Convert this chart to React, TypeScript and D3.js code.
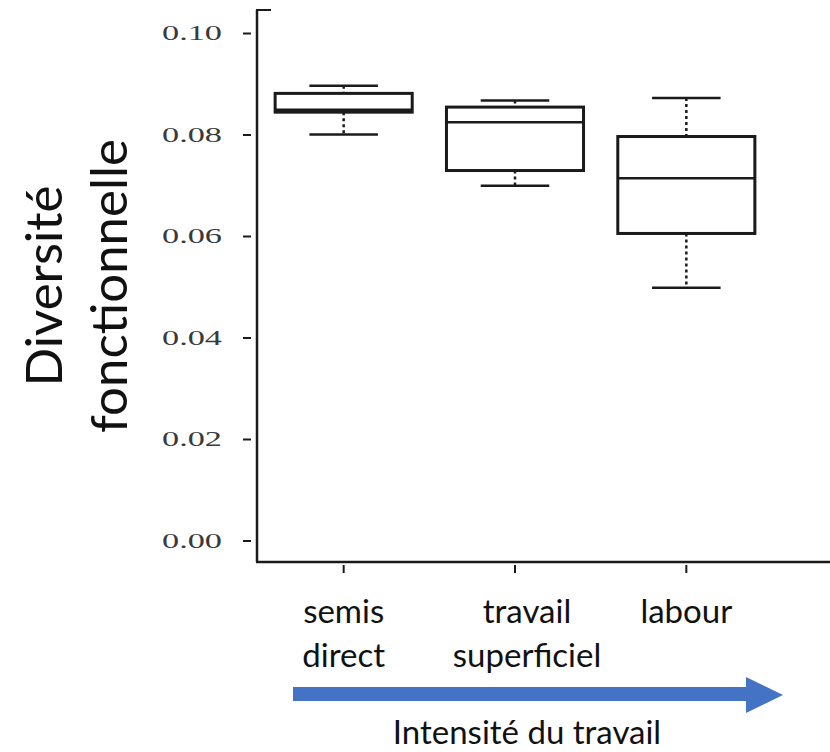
import * as d3 from "d3";

const width = 830;
const height = 752;

// data
const categories = ["semis direct", "travail superficiel", "labour"];
const labelLines = [["semis", "direct"], ["travail", "superficiel"], ["labour"]];
const whiskerLow = [0.0801, 0.07, 0.0499];
const q1 = [0.0845, 0.073, 0.0606];
const median = [0.085, 0.0825, 0.0715];
const q3 = [0.0882, 0.0855, 0.0797];
const whiskerHigh = [0.0897, 0.0868, 0.0873];
const yTicks = [0, 0.02, 0.04, 0.06, 0.08, 0.1];

const axisX = 257;
const axisY = 562;
const labelShift = [0, 12, 0];
const ink = "#1a1a1a";
const sans = "Lato, 'Open Sans', sans-serif";

export default function App() {
  const y = d3.scaleLinear().domain([0, 0.1]).range([541, 33.5]);
  const x = d3
    .scalePoint<string>()
    .domain(categories)
    .range([258, 772])
    .padding(0.5);
  const step = x.step();
  const boxW = step * 0.8;
  const capW = step * 0.4;

  return (
    <svg
      width={width}
      height={height}
      style={{ position: "absolute", left: 0, top: 0, background: "white" }}
    >
      {/* axes */}
      <line x1={axisX} x2={axisX} y1={10} y2={axisY} stroke={ink} strokeWidth={2.5} />
      <line x1={axisX - 1} x2={axisX + 14} y1={10} y2={10} stroke={ink} strokeWidth={2} />
      <line x1={axisX - 1} x2={width} y1={axisY} y2={axisY} stroke={ink} strokeWidth={2.5} />

      {yTicks.map((t) => (
        <g key={t}>
          <line x1={243} x2={251} y1={y(t)} y2={y(t)} stroke={ink} strokeWidth={2} />
          <text
            x={222}
            y={y(t)}
            dy="0.32em"
            textAnchor="end"
            fontFamily="'Liberation Serif', 'Times New Roman', serif"
            fontSize={21}
            fill="#3a3a3a"
            textLength={60}
            lengthAdjust="spacingAndGlyphs"
          >
            {d3.format(".2f")(t)}
          </text>
        </g>
      ))}

      {categories.map((c) => (
        <line
          key={c}
          x1={x(c)}
          x2={x(c)}
          y1={axisY + 3}
          y2={axisY + 11}
          stroke={ink}
          strokeWidth={2}
        />
      ))}

      {/* boxes */}
      {categories.map((c, i) => {
        const cx = x(c)!;
        return (
          <g key={c} stroke={ink} fill="none">
            <line
              x1={cx}
              x2={cx}
              y1={y(whiskerHigh[i])}
              y2={y(q3[i])}
              strokeWidth={2.5}
              strokeDasharray="3,3"
            />
            <line
              x1={cx}
              x2={cx}
              y1={y(q1[i])}
              y2={y(whiskerLow[i])}
              strokeWidth={2.5}
              strokeDasharray="3,3"
            />
            <line
              x1={cx - capW / 2}
              x2={cx + capW / 2}
              y1={y(whiskerHigh[i])}
              y2={y(whiskerHigh[i])}
              strokeWidth={2.5}
            />
            <line
              x1={cx - capW / 2}
              x2={cx + capW / 2}
              y1={y(whiskerLow[i])}
              y2={y(whiskerLow[i])}
              strokeWidth={2.5}
            />
            <rect
              x={cx - boxW / 2}
              y={y(q3[i])}
              width={boxW}
              height={y(q1[i]) - y(q3[i])}
              fill="white"
              strokeWidth={3}
            />
            <line
              x1={cx - boxW / 2}
              x2={cx + boxW / 2}
              y1={y(median[i])}
              y2={y(median[i])}
              strokeWidth={2.5}
            />
          </g>
        );
      })}

      {/* category labels */}
      {categories.map((c, i) => (
        <text
          key={c}
          x={x(c)! + labelShift[i]}
          y={623}
          textAnchor="middle"
          fontFamily={sans}
          fontSize={33}
          fill="#111"
        >
          {labelLines[i].map((l, j) => (
            <tspan key={l} x={x(c)! + labelShift[i]} dy={j === 0 ? 0 : 44}>
              {l}
            </tspan>
          ))}
        </text>
      ))}

      {/* y title */}
      <text
        transform="translate(62,286) rotate(-90)"
        textAnchor="middle"
        fontFamily={sans}
        fontSize={51}
        fill="#111"
      >
        <tspan x={0} dy={0}>Diversité</tspan>
        <tspan x={0} dy={65}>fonctionnelle</tspan>
      </text>

      {/* intensity arrow */}
      <line x1={293} x2={748} y1={694} y2={694} stroke="#4472C4" strokeWidth={14} />
      <path d="M746,677 L783,695 L746,713 Z" fill="#4472C4" />
      <text
        x={527}
        y={744}
        textAnchor="middle"
        fontFamily={sans}
        fontSize={33}
        fill="#111"
      >
        Intensité du travail
      </text>
    </svg>
  );
}
